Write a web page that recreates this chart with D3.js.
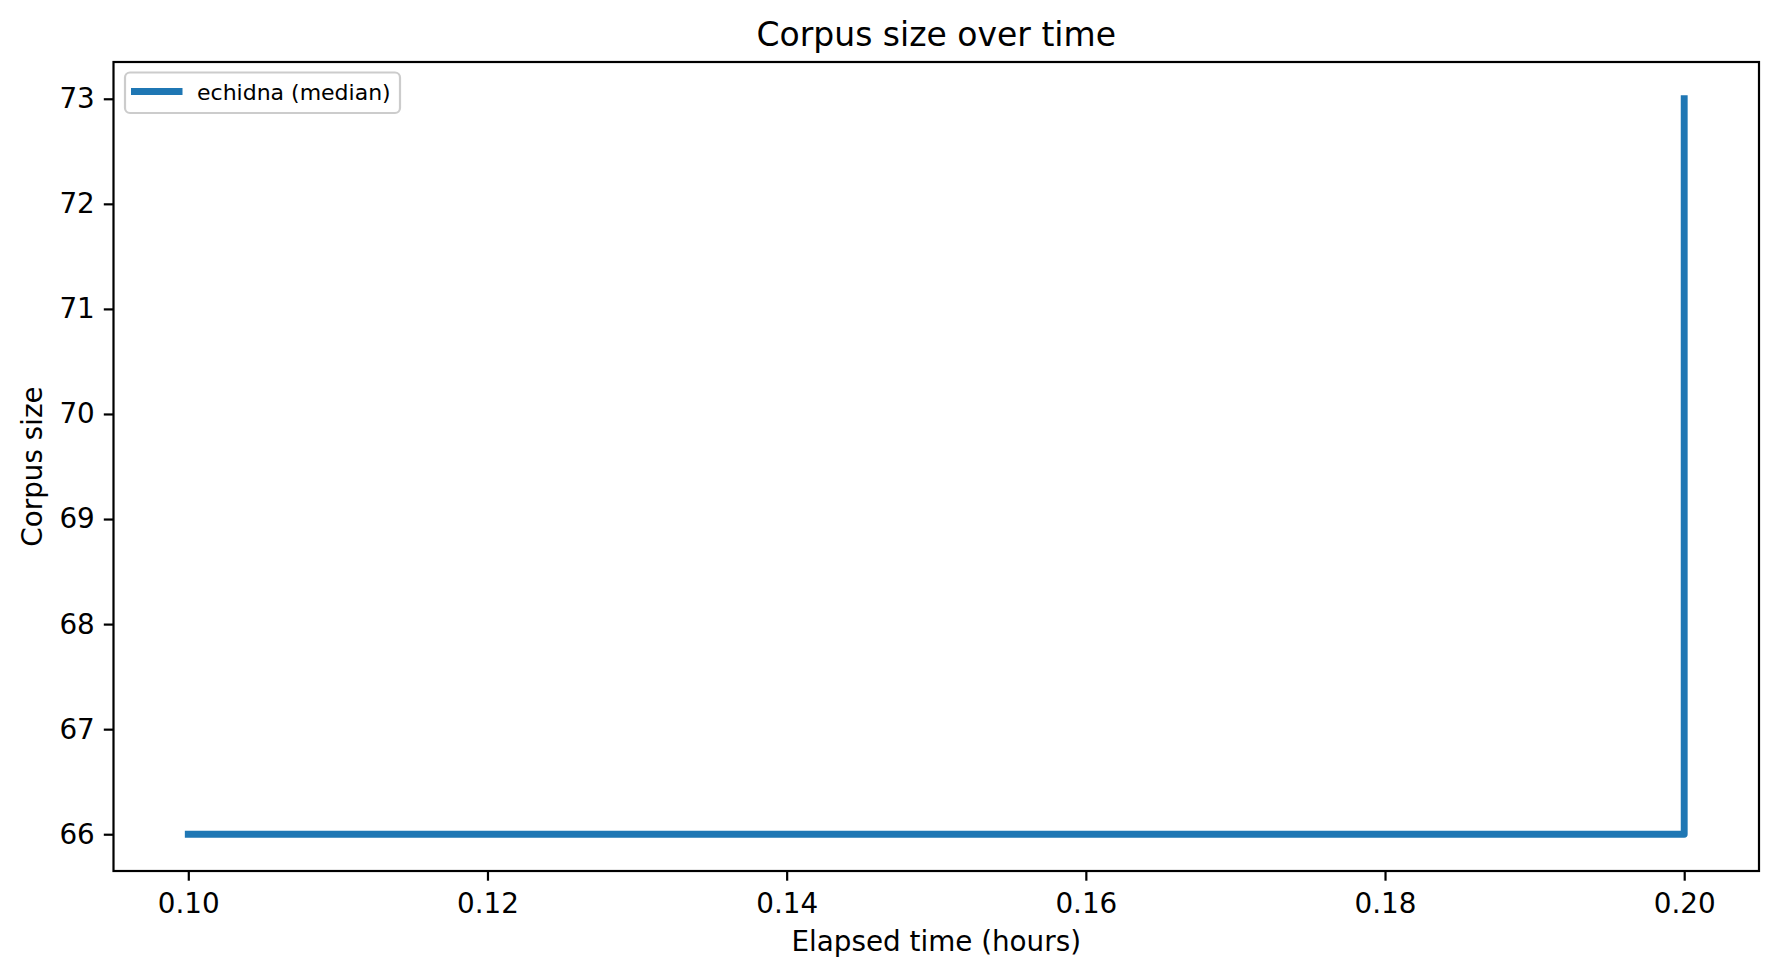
<!DOCTYPE html>
<html>
<head>
<meta charset="utf-8">
<script src="https://cdn.jsdelivr.net/npm/d3@7"></script>
<style>
  body { margin: 0; background: #fff; }
  text { font-family: "DejaVu Sans", sans-serif; fill: #000; }
</style>
</head>
<body>
<div id="chart"></div>
<script>
// data
var elapsedHours = [0.10, 0.20, 0.20],
    corpusSize = [66, 66, 73],
    xTicks = [0.10, 0.12, 0.14, 0.16, 0.18, 0.20],
    yTicks = [66, 67, 68, 69, 70, 71, 72, 73],
    seriesName = "echidna (median)";

var width = 1779,
    height = 978,
    margin = {left: 113.5, right: 20, top: 62, bottom: 107},
    lineColor = "#1f77b4";

var svg = d3.select("#chart")
        .append("svg")
        .attr("width", width)
        .attr("height", height);

// 5% padding like matplotlib
var xExt = d3.extent(elapsedHours), xPad = (xExt[1] - xExt[0]) * 0.05,
    yExt = d3.extent(corpusSize), yPad = (yExt[1] - yExt[0]) * 0.05;

var x = d3.scaleLinear()
        .domain([xExt[0] - xPad, xExt[1] + xPad])
        .range([margin.left, width - margin.right]),
    y = d3.scaleLinear()
        .domain([yExt[0] - yPad, yExt[1] + yPad])
        .range([height - margin.bottom, margin.top]);

// axes
var xAxis = svg.append("g")
    .attr("transform", "translate(0," + (height - margin.bottom) + ")")
    .call(d3.axisBottom(x).tickValues(xTicks).tickFormat(d3.format(".2f"))
        .tickSize(9.7).tickPadding(12.5).tickSizeOuter(0));
var yAxis = svg.append("g")
    .attr("transform", "translate(" + margin.left + ",0)")
    .call(d3.axisLeft(y).tickValues(yTicks).tickFormat(d3.format("d"))
        .tickSize(9.7).tickPadding(9).tickSizeOuter(0));
[xAxis, yAxis].forEach(function(a) {
    a.select(".domain").remove();
    a.selectAll(".tick line").attr("stroke", "#000").attr("stroke-width", 2.2);
    a.selectAll(".tick text")
        .style("font-family", "DejaVu Sans")
        .style("font-size", "27.8px")
        .attr("fill", "#000");
});

// the data line
var line = d3.line()
        .x(function(d, i) { return x(elapsedHours[i]); })
        .y(function(d) { return y(d); });
svg.append("path")
    .datum(corpusSize)
    .attr("d", line)
    .attr("fill", "none")
    .attr("stroke", lineColor)
    .attr("stroke-width", 6.9)
    .attr("stroke-linecap", "square")
    .attr("stroke-linejoin", "round");

// frame
svg.append("rect")
    .attr("x", margin.left)
    .attr("y", margin.top)
    .attr("width", width - margin.left - margin.right)
    .attr("height", height - margin.top - margin.bottom)
    .attr("fill", "none")
    .attr("stroke", "#000")
    .attr("stroke-width", 2.2);

// titles
svg.append("text")
    .attr("x", (margin.left + width - margin.right) / 2)
    .attr("y", 46)
    .attr("text-anchor", "middle")
    .style("font-size", "33px")
    .text("Corpus size over time");
svg.append("text")
    .attr("x", (margin.left + width - margin.right) / 2)
    .attr("y", 951)
    .attr("text-anchor", "middle")
    .style("font-size", "27.8px")
    .text("Elapsed time (hours)");
svg.append("text")
    .attr("transform", "translate(42," + ((margin.top + height - margin.bottom) / 2) + ") rotate(-90)")
    .attr("text-anchor", "middle")
    .style("font-size", "27.8px")
    .text("Corpus size");

// legend
var legend = svg.append("g");
legend.append("rect")
    .attr("x", 125)
    .attr("y", 72.5)
    .attr("width", 275)
    .attr("height", 40.5)
    .attr("rx", 5)
    .attr("fill", "#fff")
    .attr("fill-opacity", 0.8)
    .attr("stroke", "#cccccc")
    .attr("stroke-width", 2.2);
legend.append("line")
    .attr("x1", 131)
    .attr("x2", 182.5)
    .attr("y1", 91.5)
    .attr("y2", 91.5)
    .attr("stroke", lineColor)
    .attr("stroke-width", 6.9);
legend.append("text")
    .attr("x", 197)
    .attr("y", 99.5)
    .style("font-size", "22px")
    .text(seriesName);
</script>
</body>
</html>
